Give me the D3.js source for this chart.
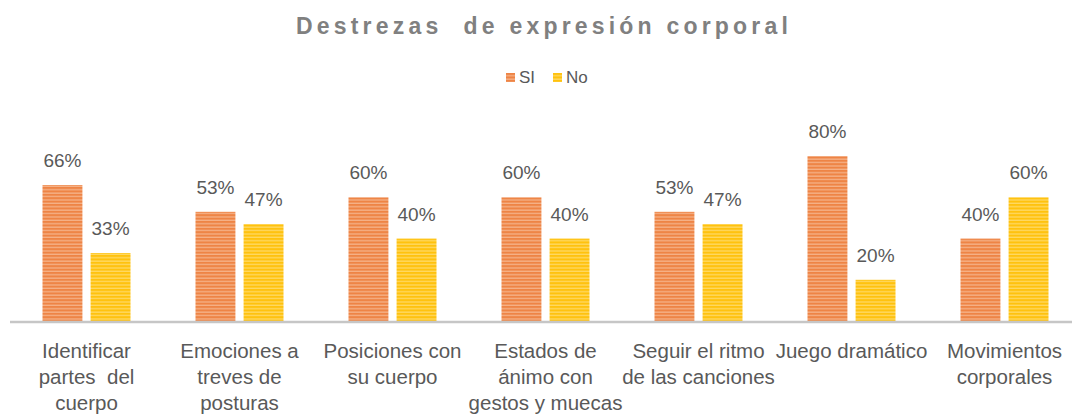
<!DOCTYPE html>
<html>
<head>
<meta charset="utf-8">
<script src="https://cdn.jsdelivr.net/npm/d3@7"></script>
<style>
  body { margin: 0; background: #fff; }
  svg { display: block; font-family: "Liberation Sans", Arial, sans-serif; }
</style>
</head>
<body>
<div id="app"></div>
<script>
// data
const categories = ["Identificar partes del cuerpo", "Emociones a treves de posturas",
  "Posiciones con su cuerpo", "Estados de ánimo con gestos y muecas",
  "Seguir el ritmo de las canciones", "Juego dramático", "Movimientos corporales"];
const categoryLines = [
  ["Identificar", "partes  del", "cuerpo"],
  ["Emociones a", "treves de", "posturas"],
  ["Posiciones con", "su cuerpo"],
  ["Estados de", "ánimo con", "gestos y muecas"],
  ["Seguir el ritmo", "de las canciones"],
  ["Juego dramático"],
  ["Movimientos", "corporales"]
];
const series = ["SI", "No"];
const siValues = [0.66, 0.53, 0.60, 0.60, 0.53, 0.80, 0.40];
const noValues = [0.33, 0.47, 0.40, 0.40, 0.47, 0.20, 0.60];
const valueLabels = {
  SI: ["66%", "53%", "60%", "60%", "53%", "80%", "40%"],
  No: ["33%", "47%", "40%", "40%", "47%", "20%", "60%"]
};

const width = 1072, height = 416;
const baseY = 321;

const svg = d3.select("#app").append("svg")
    .attr("width", width)
    .attr("height", height);

// striped fills
const defs = svg.append("defs");
const fills = {
  SI: { base: "#EE8445", stripe: "#F8C09C" },
  No: { base: "#FFC20E", stripe: "#FFE07E" }
};
series.forEach(s => {
  const p = defs.append("pattern")
      .attr("id", "stripe-" + s)
      .attr("patternUnits", "userSpaceOnUse")
      .attr("width", 8).attr("height", 3.4);
  p.append("rect").attr("width", 8).attr("height", 3.4).attr("fill", fills[s].base);
  p.append("rect").attr("y", 2.2).attr("width", 8).attr("height", 1).attr("fill", fills[s].stripe);
});

const x0 = d3.scaleBand()
    .domain(categories)
    .range([10, 1081]);

const bw = x0.bandwidth();
const x1 = d3.scaleBand()
    .domain(series)
    .range([bw / 2 - 44, bw / 2 + 44])
    .paddingInner(0.17);

const y = d3.scaleLinear()
    .domain([0, 1])
    .range([baseY, baseY - 206]);

const rows = [];
categories.forEach((c, i) => {
  rows.push({ cat: c, s: "SI", value: siValues[i], label: valueLabels.SI[i] });
  rows.push({ cat: c, s: "No", value: noValues[i], label: valueLabels.No[i] });
});

// title
svg.append("text")
    .attr("x", 544)
    .attr("y", 34)
    .attr("text-anchor", "middle")
    .attr("fill", "#808080")
    .attr("font-size", 23)
    .attr("font-weight", "bold")
    .attr("letter-spacing", 4.2)
    .style("white-space", "pre")
    .text("Destrezas  de expresión corporal");

// legend
const legend = svg.append("g").attr("transform", "translate(506,73)");
const legendX = { SI: 0, No: 47 };
series.forEach(s => {
  const g = legend.append("g").attr("transform", "translate(" + legendX[s] + ",0)");
  g.append("rect").attr("width", 9).attr("height", 9).attr("fill", "url(#stripe-" + s + ")");
  g.append("text").attr("x", 13).attr("y", 10).attr("font-size", 17)
      .attr("fill", "#595959").text(s);
});

// bars
const bars = svg.append("g");
bars.selectAll("rect")
  .data(rows)
  .join("rect")
    .attr("x", d => x0(d.cat) + x1(d.s))
    .attr("y", d => y(d.value))
    .attr("width", x1.bandwidth())
    .attr("height", d => baseY - y(d.value))
    .attr("fill", d => "url(#stripe-" + d.s + ")");

bars.selectAll("text")
  .data(rows)
  .join("text")
    .attr("x", d => x0(d.cat) + x1(d.s) + x1.bandwidth() / 2)
    .attr("y", d => y(d.value) - 18)
    .attr("text-anchor", "middle")
    .attr("font-size", 19)
    .attr("fill", "#595959")
    .text(d => d.label);

// axis line
svg.append("line")
    .attr("x1", 10).attr("x2", width)
    .attr("y1", baseY + 1).attr("y2", baseY + 1)
    .attr("stroke", "#c6c6c6")
    .attr("stroke-width", 2.5);

// category labels
const cats = svg.append("g");
categories.forEach((c, i) => {
  const t = cats.append("text")
      .attr("x", x0(c) + bw / 2)
      .attr("text-anchor", "middle")
      .attr("font-size", 20.5)
      .attr("fill", "#595959")
      .style("white-space", "pre");
  categoryLines[i].forEach((line, j) => {
    t.append("tspan")
        .attr("x", x0(c) + bw / 2)
        .attr("y", 358 + j * 26)
        .text(line);
  });
});
</script>
</body>
</html>
